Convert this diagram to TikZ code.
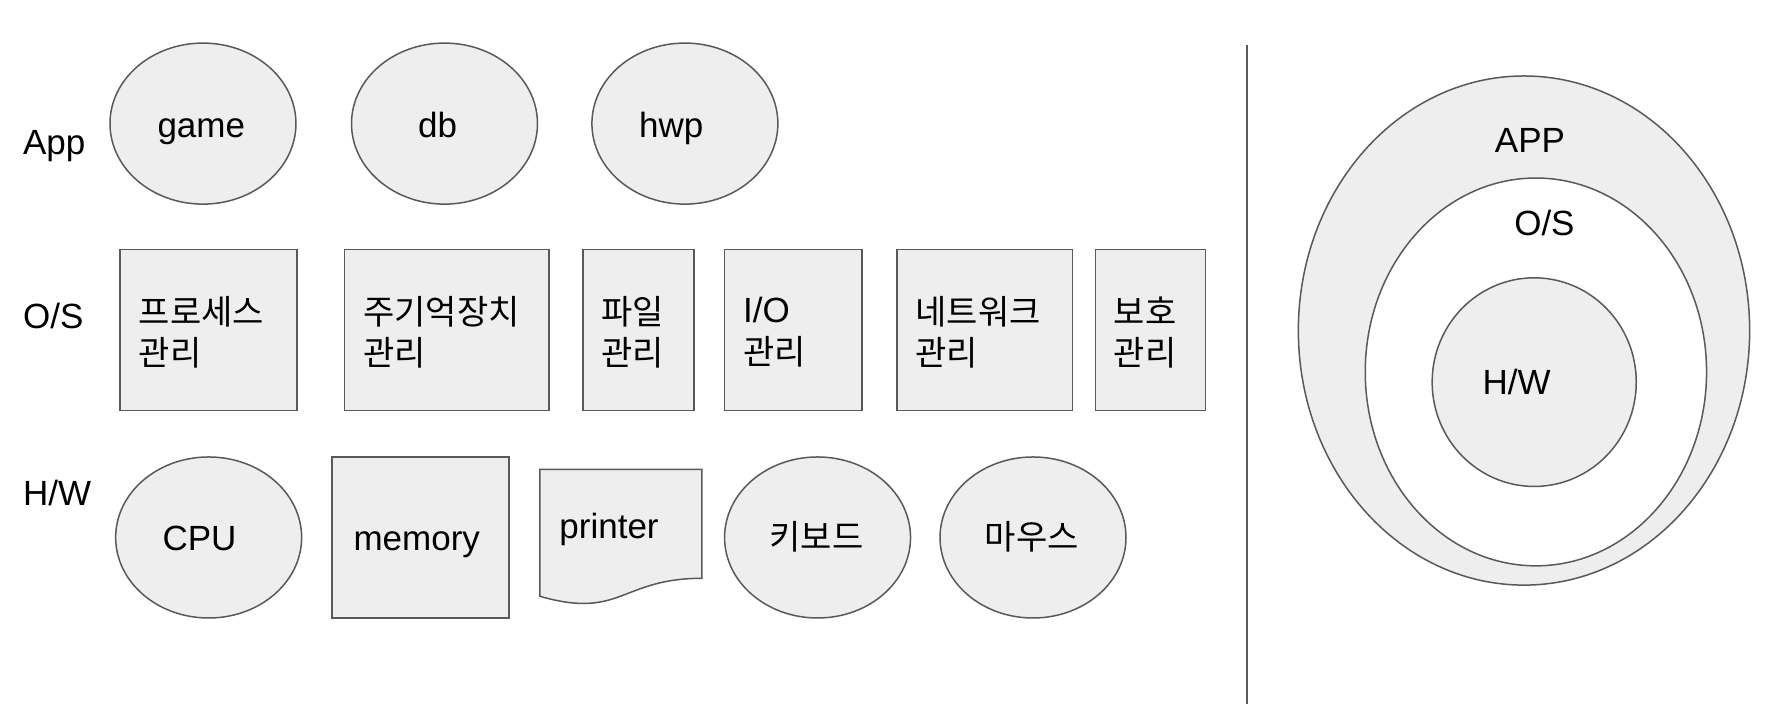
\documentclass[tikz,border=0pt]{standalone}
\usepackage{fontspec}
\setmainfont{Liberation Sans}
\newfontfamily\kr{Noto Sans CJK KR}
\usetikzlibrary{shapes.geometric}
\definecolor{shapefill}{HTML}{EEEEEE}
\definecolor{linegray}{HTML}{595959}
\def\pxu{0.567pt}
\begin{document}
\begin{tikzpicture}[x=0.567pt,y=-0.567pt,
  shp/.style={draw=linegray, fill=shapefill, line width=0.75pt},
  ell/.style={shp, ellipse, inner sep=0pt, outer sep=0pt, minimum width=164*\pxu, minimum height=142*\pxu},
  sq/.style={shp, rectangle, inner sep=0pt, outer sep=0pt, minimum height=142*\pxu},
  lat/.style={font=\fontsize{17.5}{21}\selectfont, inner sep=0pt, anchor=base},
  latw/.style={lat, anchor=base west},
  kor/.style={font=\kr\fontsize{17}{20.7}\selectfont, inner sep=0pt},
  boxtxt/.style={font=\kr\fontsize{17}{20.7}\selectfont, inner sep=0pt, align=left, anchor=west}]
\useasboundingbox (0,0) rectangle (1568,621);
\fill[white] (0,0) rectangle (1568,621);

% row labels
\node[latw] (lapp) at (20,136) {App};
\node[latw] (los) at (20,290) {O/S};
\node[latw] (lhw) at (20,446) {H/W};

% App row
\node[ell] (game) at (179,109) {};
\node[lat] (tgame) at (177.5,121) {game};
\node[ell] (db) at (392,109) {};
\node[lat] (tdb) at (386,121) {db};
\node[ell] (hwp) at (604,109) {};
\node[lat] (thwp) at (592,121) {hwp};

% O/S row
\node[sq, minimum width=156*\pxu] (proc) at (184,291) {};
\node[boxtxt] (tproc) at (122,293) {프로세스\\관리};
\node[sq, minimum width=180*\pxu] (mem) at (394,291) {};
\node[boxtxt] (tmem) at (320,293) {주기억장치\\관리};
\node[sq, minimum width=98*\pxu] (file) at (563,291) {};
\node[boxtxt] (tfile) at (530,293) {파일\\관리};
\node[sq, minimum width=121*\pxu] (io) at (699.5,291) {};
\node[boxtxt] (tio) at (655,293) {{\rmfamily\fontsize{17.5}{20.7}\selectfont I/O}\\관리};
\node[sq, minimum width=155*\pxu] (net) at (868.5,291) {};
\node[boxtxt] (tnet) at (807,293) {네트워크\\관리};
\node[sq, minimum width=97*\pxu] (prot) at (1014.5,291) {};
\node[boxtxt] (tprot) at (982,293) {보호\\관리};

% H/W row
\node[ell] (cpu) at (184,474) {};
\node[lat] (tcpu) at (176,485.6) {CPU};
\node[sq, minimum width=156*\pxu] (memory) at (371,474) {};
\node[lat] (tmemory) at (367.5,485.6) {memory};
\draw[shp] (476,414) -- (619,414) -- (619,510)
  .. controls (547.5,510) and (547.5,546.6) .. (476,525.8) -- cycle;
\node[latw] (tprinter) at (493,474.7) {printer};
\node[ell] (kbd) at (721,474) {};
\node[kor] (tkbd) at (720,473) {키보드};
\node[ell] (mouse) at (911,474) {};
\node[kor] (tmouse) at (910,473) {마우스};

% separator
\coordinate (septop) at (1100,40);
\coordinate (sepbot) at (1100,621);
\draw[linegray, line width=1pt] (septop) -- (sepbot);

% nested layers
\node[shp, ellipse, inner sep=0pt, minimum width=398*\pxu, minimum height=449*\pxu] (outer) at (1344,291.5) {};
\node[shp, fill=white, ellipse, inner sep=0pt, minimum width=301*\pxu, minimum height=342*\pxu] (middle) at (1354.5,328) {};
\node[shp, ellipse, inner sep=0pt, minimum width=180*\pxu, minimum height=184*\pxu] (inner) at (1353,337) {};
\node[latw] (tapp) at (1318,134.7) {APP};
\node[lat] (tos) at (1362,208) {O/S};
\node[lat] (thw) at (1337.5,348) {H/W};
\end{tikzpicture}
\end{document}
